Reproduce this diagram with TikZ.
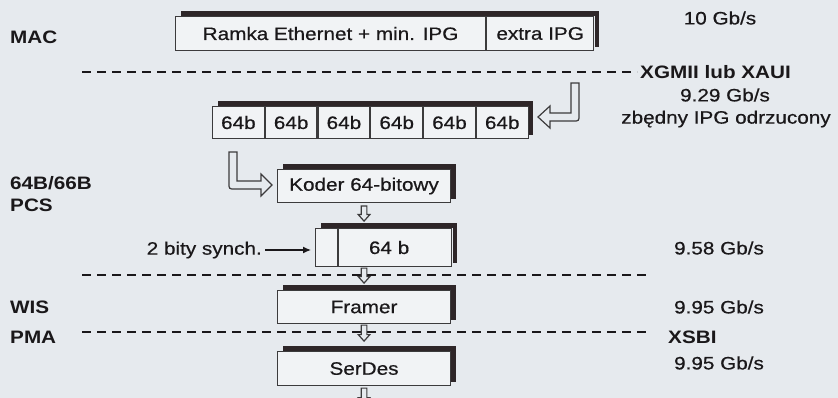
\documentclass[tikz,border=0pt]{standalone}
\usepackage{fontspec}
\setmainfont{Liberation Sans}[FakeStretch=1.15, UprightFeatures={FakeBold=0.6}]
\usetikzlibrary{calc,arrows.meta}

\definecolor{paper}{HTML}{E6EAEE}
\definecolor{cellfill}{HTML}{F1F3F5}
\definecolor{ink}{HTML}{1A181A}
\definecolor{bar}{HTML}{2E2628}

\tikzset{
  txt/.style={inner sep=0pt, text=ink, font=\fontsize{18}{20}\selectfont},
  lbl/.style={inner sep=0pt, text=ink, font=\fontsize{18}{20}\selectfont\bfseries},
  frame/.style={draw=ink!85, line width=1.1pt, fill=cellfill, inner sep=0pt,
    anchor=north west, text=ink, font=\fontsize{18}{20}\selectfont},
  divider/.style={draw=ink, line width=1.8pt, dash pattern=on 9pt off 6pt},
  blockarrow/.style={draw=ink!85, line width=1.2pt, fill=paper, line join=miter},
  shadebar/.style={fill=bar},
}

% dark printed edge along the top and right side of a box (first to last node)
\newcommand\barshade[2]{%
  \fill[shadebar] ([shift={(6pt,5pt)}]#1.north west) rectangle ([shift={(4.5pt,0.3pt)}]#2.north east);
  \fill[shadebar] ([shift={(0.3pt,5pt)}]#2.north east) rectangle ([shift={(4.5pt,4pt)}]#2.south east);
}
% hollow downward block arrow starting at a named point
\newcommand\hollowdown[2]{%
  \draw[blockarrow] ($(#1)+(-2.8,0)$) -- ++(0,{#2-6.5}) -- ++(-3,0) -- ++(5.8,6.5)
    -- ++(5.8,-6.5) -- ++(-3,0) -- ++(0,{-(#2-6.5)}) -- cycle;
}

\begin{document}
\begin{tikzpicture}[x=1pt,y=-1pt]
\useasboundingbox (0,0) rectangle (838,398);
\clip (0,0) rectangle (838,398);
\fill[paper] (0,0) rectangle (838,398);

% layer names
\node[lbl, anchor=west] (lmac) at (10,37) {MAC};
\node[lbl, anchor=west] (lcode) at (10,183) {64B/66B};
\node[lbl, anchor=west] (lpcs) at (10,205) {PCS};
\node[lbl, anchor=west] (lwis) at (10,307) {WIS};
\node[lbl, anchor=west] (lpma) at (10,337) {PMA};

% rates and interfaces
\node[txt] (r10) at (720,18) {10 Gb/s};
\node[lbl, anchor=west] (xgmii) at (640,72) {XGMII lub XAUI};
\node[txt] (r929) at (725,95) {9.29 Gb/s};
\node[txt] (drop) at (726,119) {zbędny IPG odrzucony};
\node[txt] (r958) at (719,248) {9.58 Gb/s};
\node[txt] (r995a) at (719,307) {9.95 Gb/s};
\node[lbl, anchor=west] (xsbi) at (668,337) {XSBI};
\node[txt] (r995b) at (719,363) {9.95 Gb/s};

% interface boundaries
\coordinate (d1) at (82,72);
\draw[divider] (d1) -- ([xshift=-3pt]xgmii.west);
\coordinate (d2a) at (82,275);
\coordinate (d2b) at (650,275);
\draw[divider] (d2a) -- (d2b);
\coordinate (d3a) at (82,332);
\coordinate (d3b) at (650,332);
\draw[divider] (d3a) -- (d3b);

% MAC frame
\node[frame, minimum width=310pt, minimum height=34pt] (ramka) at (175,16) {Ramka Ethernet + min. IPG};
\node[frame, minimum width=107pt, minimum height=34pt] (extra) at (ramka.north east) {extra IPG};
\barshade{ramka}{extra}

% 64-bit words
\node[frame, minimum width=51.67pt, minimum height=32pt] (c1) at (212,106) {64b};
\node[frame, minimum width=51.67pt, minimum height=32pt] (c2) at (c1.north east) {64b};
\node[frame, minimum width=51.67pt, minimum height=32pt] (c3) at (c2.north east) {64b};
\node[frame, minimum width=51.67pt, minimum height=32pt] (c4) at (c3.north east) {64b};
\node[frame, minimum width=51.67pt, minimum height=32pt] (c5) at (c4.north east) {64b};
\node[frame, minimum width=51.67pt, minimum height=32pt] (c6) at (c5.north east) {64b};
\barshade{c1}{c6}

% encoder
\node[frame, minimum width=173pt, minimum height=33pt] (koder) at (277,169) {Koder 64-bitowy};
\barshade{koder}{koder}

% 66-bit block: sync header and payload
\node[frame, minimum width=22pt, minimum height=38pt] (sh) at (315,228) {};
\node[frame, minimum width=113pt, minimum height=38pt] (payload) at (sh.north east) {};
\node[txt] (payloadtxt) at ($(payload.center)+(-6,0)$) {64 b};
\barshade{sh}{payload}

\node[txt, anchor=east] (synch) at (262,250) {2 bity synch.};
\draw[ink, line width=1.3pt, -{Latex[length=8pt,width=7pt]}] ([xshift=3pt]synch.east) -- ([xshift=-4pt]synch.east -| sh.west);

% WIS and PMA
\node[frame, minimum width=173pt, minimum height=33pt] (framer) at (277,290) {Framer};
\barshade{framer}{framer}
\node[frame, minimum width=173pt, minimum height=34pt] (serdes) at (277,351) {SerDes};
\barshade{serdes}{serdes}

% bent block arrows
\draw[blockarrow] (571,83) -- (571,113) -- (550,113) -- (550,106) -- (538,117) -- (550,128)
  -- (550,121) -- (573,121) .. controls (579,121) .. (579,115) -- (579,83) -- cycle;
\draw[blockarrow] (229,152) -- (229,183) .. controls (229,189) .. (235,189) -- (261,189)
  -- (261,196) -- (272,185) -- (261,174) -- (261,181) -- (237,181) -- (237,152) -- cycle;

% data flow downwards
\coordinate (k1) at ($(koder.south)+(0,3)$);
\coordinate (k2) at ($(koder.south |- payload.south)+(0,1)$);
\coordinate (k3) at ($(framer.south)+(0,1)$);
\coordinate (k4) at ($(serdes.south)+(0,2)$);
\hollowdown{k1}{15}
\hollowdown{k2}{15}
\hollowdown{k3}{16}
\hollowdown{k4}{16}
\end{tikzpicture}
\end{document}
